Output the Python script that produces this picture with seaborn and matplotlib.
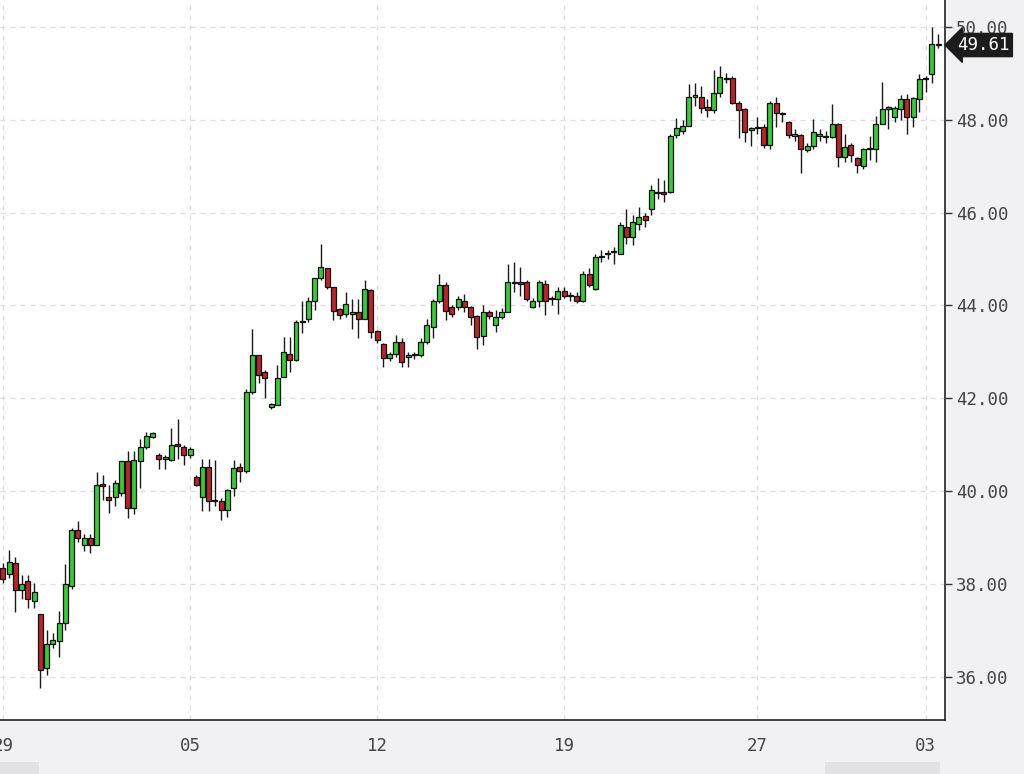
import numpy as np
import matplotlib.pyplot as plt
import matplotlib.transforms as mtransforms
from matplotlib.patches import Rectangle
import seaborn as sns

# candle data, one entry per bar
opens = [38.34, 38.21, 38.45, 37.86, 38.07, 37.63, 37.36, 36.19, 36.71, 36.78,
         37.17, 37.95, 39.17, 38.85, 38.98, 38.85, 40.14, 39.88, 39.88, 39.96,
         40.64, 39.64, 40.64, 40.96, 41.17, 40.78, 40.70, 40.68, 41.00, 40.96,
         40.78, 40.31, 39.88, 40.53, 39.79, 39.78, 39.60, 40.07, 40.53, 40.43,
         42.14, 42.93, 42.57, 41.82, 41.86, 42.46, 42.96, 42.82, 43.64, 43.71,
         44.10, 44.60, 44.80, 44.39, 43.93, 43.82, 43.82, 43.86, 43.71, 44.34,
         43.46, 43.18, 42.87, 42.96, 43.21, 42.90, 42.93, 42.93, 43.21, 43.54,
         44.10, 44.43, 43.96, 43.96, 44.10, 43.96, 43.78, 43.35, 43.86, 43.57,
         43.75, 43.86, 44.50, 44.48, 44.50, 43.96, 44.10, 44.46, 44.14, 44.14,
         44.32, 44.20, 44.20, 44.10, 44.68, 44.35, 45.04, 45.10, 45.15, 45.11,
         45.70, 45.47, 45.76, 45.93, 46.08, 46.43, 46.42, 46.45, 47.68, 47.75,
         47.86, 48.50, 48.50, 48.27, 48.20, 48.57, 48.87, 48.90, 48.36, 48.23,
         47.79, 47.82, 47.85, 47.46, 48.37, 48.12, 47.96, 47.64, 47.67, 47.35,
         47.44, 47.66, 47.63, 47.63, 47.90, 47.20, 47.45, 47.17, 47.00, 47.37,
         47.38, 47.91, 48.24, 48.06, 48.24, 48.45, 48.06, 48.45, 48.88, 48.99,
         49.62]
highs = [38.45, 38.73, 38.59, 38.20, 38.20, 38.02, 37.36, 37.00, 36.95, 37.42,
         38.42, 39.20, 39.36, 39.08, 39.08, 40.42, 40.35, 40.14, 40.25, 40.64,
         40.86, 40.86, 41.13, 41.27, 41.28, 40.82, 40.78, 41.36, 41.55, 41.00,
         40.95, 40.35, 40.70, 40.70, 40.67, 39.85, 40.05, 40.68, 40.60, 42.20,
         43.50, 42.93, 42.60, 41.90, 42.71, 43.32, 43.32, 43.68, 44.10, 44.18,
         44.60, 45.32, 44.80, 44.39, 43.95, 44.29, 44.14, 44.14, 44.54, 44.36,
         43.48, 43.20, 43.00, 43.36, 43.30, 43.00, 43.00, 43.30, 43.71, 44.14,
         44.68, 44.50, 44.00, 44.21, 44.25, 43.98, 43.80, 44.00, 43.90, 43.90,
         43.95, 44.90, 44.93, 44.82, 44.55, 44.15, 44.55, 44.55, 44.20, 44.40,
         44.40, 44.30, 44.30, 44.75, 44.80, 45.10, 45.20, 45.20, 45.25, 45.80,
         46.08, 45.95, 46.12, 46.00, 46.59, 46.74, 46.70, 47.70, 48.04, 48.00,
         48.76, 48.79, 48.72, 48.45, 49.08, 49.15, 49.00, 48.95, 48.40, 48.25,
         47.85, 48.07, 47.90, 48.40, 48.48, 48.16, 47.98, 47.80, 47.70, 47.50,
         48.01, 47.80, 47.75, 48.34, 47.92, 47.70, 47.50, 47.20, 47.40, 47.66,
         48.09, 48.81, 48.30, 48.30, 48.54, 48.56, 48.50, 48.99, 48.95, 49.99,
         49.85]
lows = [38.02, 38.13, 37.39, 37.67, 37.49, 37.49, 35.76, 36.04, 36.62, 36.43,
        37.00, 37.90, 38.90, 38.70, 38.67, 38.85, 39.81, 39.52, 39.67, 39.90,
        39.42, 39.50, 40.06, 40.90, 41.15, 40.47, 40.47, 40.65, 40.70, 40.57,
        40.72, 40.10, 39.57, 39.57, 39.67, 39.38, 39.45, 39.90, 40.20, 40.40,
        42.10, 42.32, 42.00, 41.78, 41.85, 42.46, 42.57, 42.80, 43.40, 43.65,
        43.90, 44.55, 44.35, 43.68, 43.71, 43.75, 43.50, 43.29, 43.70, 43.29,
        43.20, 42.68, 42.80, 42.90, 42.68, 42.68, 42.85, 42.90, 43.18, 43.29,
        44.05, 43.68, 43.75, 43.90, 43.86, 43.57, 43.07, 43.14, 43.70, 43.43,
        43.70, 43.85, 44.30, 44.20, 44.10, 43.95, 43.97, 43.80, 44.00, 43.81,
        44.15, 44.10, 44.05, 44.08, 44.40, 44.33, 44.93, 45.00, 44.90, 45.10,
        45.33, 45.30, 45.62, 45.70, 45.94, 46.30, 46.23, 46.43, 47.60, 47.70,
        47.86, 48.30, 48.14, 48.05, 48.15, 48.50, 48.80, 48.35, 47.60, 47.52,
        47.44, 47.70, 47.40, 47.36, 47.85, 47.95, 47.60, 47.55, 46.86, 47.30,
        47.36, 47.55, 47.50, 47.60, 46.99, 47.10, 47.10, 46.85, 46.95, 47.13,
        47.09, 47.90, 47.80, 47.95, 48.00, 47.70, 47.85, 48.16, 48.60, 48.80,
        49.55]
closes = [38.10, 38.48, 37.86, 38.00, 37.67, 37.83, 36.15, 36.71, 36.80, 37.17,
          38.00, 39.17, 38.98, 38.98, 38.85, 40.14, 40.12, 39.81, 40.18, 40.64,
          39.64, 40.68, 40.96, 41.18, 41.26, 40.70, 40.72, 41.00, 40.98, 40.78,
          40.90, 40.14, 40.53, 39.78, 39.78, 39.60, 40.03, 40.50, 40.43, 42.14,
          42.93, 42.50, 42.43, 41.87, 42.43, 43.00, 42.82, 43.64, 43.66, 44.10,
          44.60, 44.82, 44.39, 43.89, 43.79, 44.03, 43.83, 43.71, 44.36, 43.43,
          43.25, 42.86, 42.96, 43.21, 42.79, 42.93, 42.95, 43.21, 43.57, 44.10,
          44.43, 43.89, 43.82, 44.14, 43.96, 43.75, 43.32, 43.86, 43.78, 43.75,
          43.86, 44.50, 44.48, 44.47, 44.14, 44.10, 44.50, 44.10, 44.15, 44.32,
          44.20, 44.21, 44.10, 44.68, 44.43, 45.04, 45.07, 45.13, 45.17, 45.73,
          45.48, 45.80, 45.90, 45.85, 46.48, 46.42, 46.41, 47.65, 47.82, 47.86,
          48.50, 48.50, 48.25, 48.20, 48.57, 48.92, 48.88, 48.36, 48.21, 47.74,
          47.80, 47.84, 47.46, 48.37, 48.15, 48.12, 47.67, 47.70, 47.38, 47.44,
          47.73, 47.67, 47.64, 47.90, 47.20, 47.41, 47.24, 47.02, 47.38, 47.38,
          47.91, 48.24, 48.26, 48.26, 48.45, 48.06, 48.47, 48.88, 48.90, 49.63,
          49.61]

x_tick_pos = [0, 30, 60, 90, 121, 148]
x_tick_labels = ['29', '05', '12', '19', '27', '03']
y_ticks = [36, 38, 40, 42, 44, 46, 48, 50]
last_price = 49.61

sns.set_style('white')
plt.rcParams['font.family'] = ['DejaVu Sans Mono', 'DejaVu Sans']

up_color = '#3cc83c'
down_color = '#b8262c'
bg = '#f1f1f3'

o = np.array(opens)
h = np.array(highs)
l = np.array(lows)
c = np.array(closes)
idx = np.arange(len(o))

fig = plt.figure(figsize=(10.24, 7.74), dpi=100, facecolor=bg)
ax = fig.add_axes([0, 54 / 774, 945 / 1024, 720 / 774])
ax.set_facecolor('white')

# wicks then bodies
ax.vlines(idx, l, h, color='#1a1a1a', lw=1.0, zorder=2)
body_h = np.maximum(np.abs(c - o), 0.03)
body_b = np.minimum(o, c)
colors = [up_color if cc >= oo else down_color for oo, cc in zip(o, c)]
ax.bar(idx, body_h, bottom=body_b, width=0.8, color=colors,
       edgecolor='#111111', linewidth=0.9, zorder=3)

ax.set_xlim(-0.48, 151.1)
ax.set_ylim(35.07, 50.58)

ax.set_xticks(x_tick_pos)
ax.set_xticklabels(x_tick_labels)
ax.set_yticks(y_ticks)
ax.set_yticklabels([f'{v:.2f}' for v in y_ticks])
ax.yaxis.tick_right()

ax.grid(True, color='#dddddd', lw=0.9, ls=(0, (4, 4)), zorder=0)
for side in ['left', 'top']:
    ax.spines[side].set_visible(False)
for side in ['right', 'bottom']:
    ax.spines[side].set_color('#333333')
    ax.spines[side].set_linewidth(1.3)

ax.tick_params(axis='x', direction='out', length=6, width=1, color='#333333',
               labelsize=12.5, labelcolor='#444444', pad=6)
ax.tick_params(axis='y', direction='out', length=5, width=1, color='#333333',
               labelsize=12.5, labelcolor='#444444', pad=3)

# last price tag
trans = mtransforms.blended_transform_factory(ax.transAxes, ax.transData)
ax.text(1.013, last_price, f'{last_price:.2f}', transform=trans,
        ha='left', va='center', color='white', fontsize=12.5, clip_on=False,
        bbox=dict(boxstyle='larrow,pad=0.15', fc='#1c1c1c', ec='#1c1c1c'),
        zorder=5)

# scrollbar strip at the bottom
fig.patches.append(Rectangle((0, 0), 39 / 1024, 12 / 774, transform=fig.transFigure,
                             fc='#e2e2e6', ec='none'))
fig.patches.append(Rectangle((825 / 1024, 0), 115 / 1024, 12 / 774,
                             transform=fig.transFigure, fc='#e2e2e6', ec='none'))

fig.savefig('out.png', dpi=100, facecolor=bg)
